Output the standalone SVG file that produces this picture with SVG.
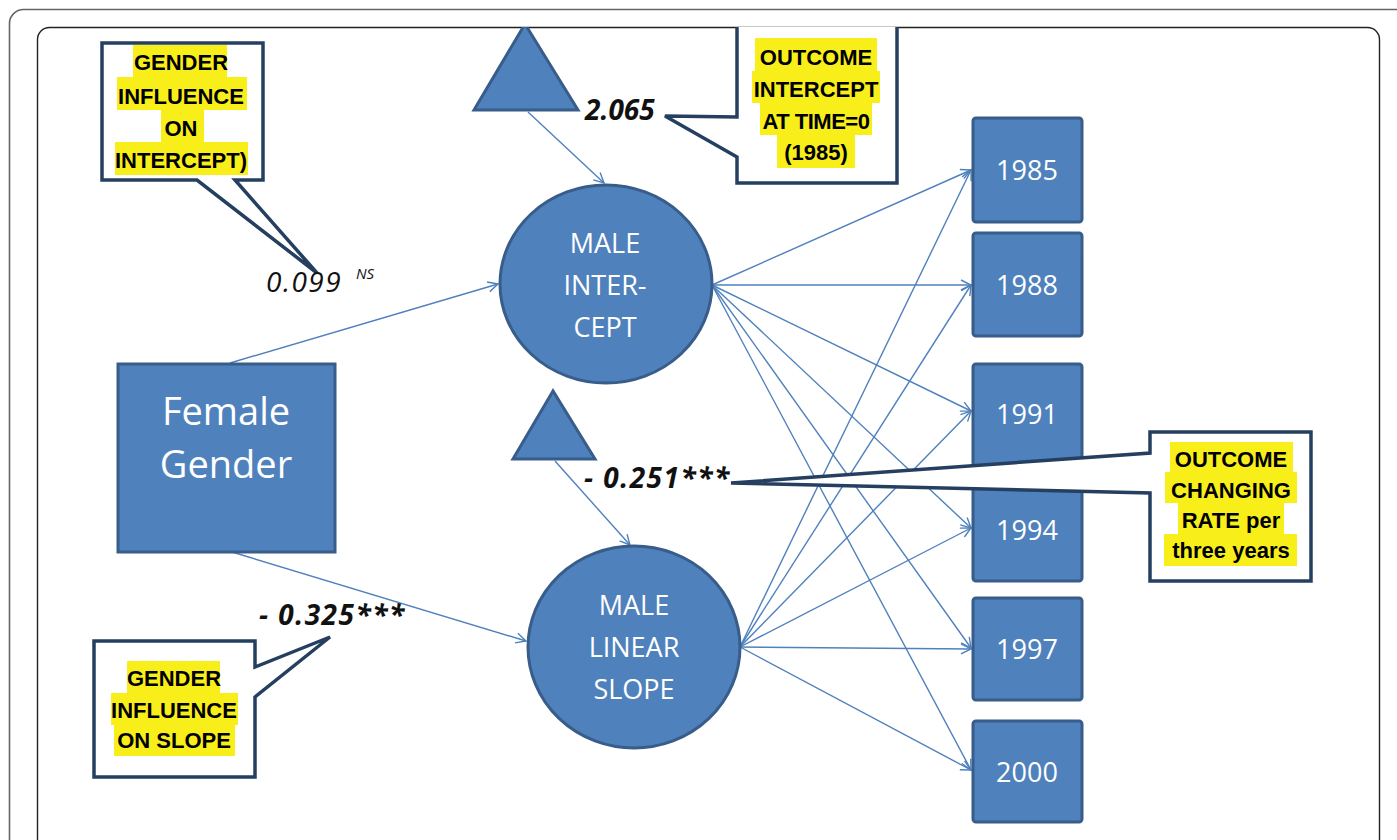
<svg xmlns="http://www.w3.org/2000/svg" width="1397" height="840" viewBox="0 0 1397 840">
<style>
.shape{fill:#4f81bd;stroke:#385d8a;stroke-width:3}
.conn{stroke:#4f81bd;stroke-width:1.4;fill:none}
.call{fill:#fff;stroke:#243f60;stroke-width:3.5;stroke-linejoin:miter}
.hl{fill:#f8ef1a}
.ct{font-family:"Liberation Sans",Arial,sans-serif;font-weight:bold;font-size:22px;fill:#000;text-anchor:middle}
.wt{font-family:"Open Sans","Liberation Sans",sans-serif;fill:#fff;text-anchor:middle}
.lab{font-family:"Open Sans","Liberation Sans",sans-serif;font-style:italic;fill:#111}
</style>
<defs>
<marker id="arr" markerUnits="userSpaceOnUse" markerWidth="14" markerHeight="14" refX="11" refY="6" orient="auto" viewBox="0 0 14 12">
<path d="M1,1 L11,6 L1,11" fill="none" stroke="#4f81bd" stroke-width="1.4"/>
</marker>
<clipPath id="frame"><rect x="37" y="27" width="1343" height="840" rx="12"/></clipPath>
</defs>
<rect width="1397" height="840" fill="#fff"/>
<rect x="9.5" y="9.5" width="1420" height="860" rx="14" fill="none" stroke="#666" stroke-width="1.6"/>
<rect x="37.5" y="27.5" width="1342" height="840" rx="12" fill="none" stroke="#222" stroke-width="1.4"/>
<g clip-path="url(#frame)">
<g id="connectors">
<line class="conn" x1="528" y1="112" x2="604" y2="183" marker-end="url(#arr)"/>
<line class="conn" x1="555" y1="461" x2="630" y2="545" marker-end="url(#arr)"/>
<line class="conn" x1="230" y1="363" x2="498" y2="284" marker-end="url(#arr)"/>
<line class="conn" x1="232" y1="552" x2="526" y2="641" marker-end="url(#arr)"/>
<line class="conn" x1="712" y1="285" x2="971" y2="170" marker-end="url(#arr)"/>
<line class="conn" x1="712" y1="285" x2="971" y2="285" marker-end="url(#arr)"/>
<line class="conn" x1="712" y1="285" x2="971" y2="411" marker-end="url(#arr)"/>
<line class="conn" x1="712" y1="285" x2="971" y2="528" marker-end="url(#arr)"/>
<line class="conn" x1="712" y1="285" x2="971" y2="648" marker-end="url(#arr)"/>
<line class="conn" x1="712" y1="285" x2="971" y2="770" marker-end="url(#arr)"/>
<line class="conn" x1="740" y1="647" x2="971" y2="170" marker-end="url(#arr)"/>
<line class="conn" x1="740" y1="647" x2="971" y2="285" marker-end="url(#arr)"/>
<line class="conn" x1="740" y1="647" x2="971" y2="411" marker-end="url(#arr)"/>
<line class="conn" x1="740" y1="647" x2="971" y2="528" marker-end="url(#arr)"/>
<line class="conn" x1="740" y1="647" x2="971" y2="649" marker-end="url(#arr)"/>
<line class="conn" x1="740" y1="647" x2="971" y2="770" marker-end="url(#arr)"/>
</g>
<g id="tri-intercept"><polygon class="shape" points="525,24 474,110 578,110"/></g>
<g id="tri-slope"><polygon class="shape" points="553,391 513,459 595,459"/></g>
<g id="female-gender">
<rect class="shape" x="118" y="364" width="217" height="188"/>
<text class="wt" x="226" y="425" font-size="38">Female</text>
<text class="wt" x="226" y="478" font-size="38">Gender</text>
</g>
<g id="male-intercept">
<ellipse class="shape" cx="606" cy="284" rx="106" ry="99"/>
<text class="wt" x="605" y="253" font-size="27">MALE</text>
<text class="wt" x="605" y="295" font-size="27">INTER-</text>
<text class="wt" x="605" y="337" font-size="27">CEPT</text>
</g>
<g id="male-slope">
<ellipse class="shape" cx="634" cy="647" rx="106" ry="101"/>
<text class="wt" x="634" y="615" font-size="27">MALE</text>
<text class="wt" x="634" y="657" font-size="27">LINEAR</text>
<text class="wt" x="634" y="699" font-size="27">SLOPE</text>
</g>
<g id="y1985"><rect class="shape" x="973" y="118" width="109" height="104" rx="3"/><text class="wt" x="1027" y="180" font-size="27">1985</text></g>
<g id="y1988"><rect class="shape" x="973" y="233" width="109" height="103" rx="3"/><text class="wt" x="1027" y="295" font-size="27">1988</text></g>
<g id="y1991"><rect class="shape" x="973" y="364" width="109" height="102" rx="3"/><text class="wt" x="1027" y="424" font-size="27">1991</text></g>
<g id="y1994"><rect class="shape" x="973" y="478" width="109" height="103" rx="3"/><text class="wt" x="1027" y="540" font-size="27">1994</text></g>
<g id="y1997"><rect class="shape" x="973" y="598" width="109" height="102" rx="3"/><text class="wt" x="1027" y="659" font-size="27">1997</text></g>
<g id="y2000"><rect class="shape" x="973" y="721" width="109" height="101" rx="3"/><text class="wt" x="1027" y="782" font-size="27">2000</text></g>
<g id="callout-gender-intercept">
<path class="call" d="M102,43 H263 V180 H235 L317,273 L197,180 H102 Z"/>
<rect class="hl" x="133" y="45" width="94" height="32"/>
<rect class="hl" x="117" y="77" width="130" height="33"/>
<rect class="hl" x="161" y="110" width="43" height="32"/>
<rect class="hl" x="115" y="142" width="133" height="33"/>
<text class="ct" x="181" y="70">GENDER</text>
<text class="ct" x="181" y="104">INFLUENCE</text>
<text class="ct" x="181" y="136">ON</text>
<text class="ct" x="181" y="168">INTERCEPT)</text>
</g>
<g id="callout-outcome-intercept">
<path class="call" d="M737,10 H897 V183 H737 V157 L665,116 L737,117 Z"/>
<rect class="hl" x="755" y="38" width="122" height="33"/>
<rect class="hl" x="752" y="71" width="128" height="32"/>
<rect class="hl" x="760" y="103" width="112" height="32"/>
<rect class="hl" x="777" y="135" width="78" height="33"/>
<text class="ct" x="816" y="65">OUTCOME</text>
<text class="ct" x="816" y="97">INTERCEPT</text>
<text class="ct" x="816" y="129" letter-spacing="-0.5">AT TIME=0</text>
<text class="ct" x="816" y="160">(1985)</text>
</g>
<g id="callout-outcome-rate">
<path class="call" d="M1150,432 H1311 V581 H1150 V493 L731,483 L1150,453 Z"/>
<rect class="hl" x="1170" y="442" width="123" height="30"/>
<rect class="hl" x="1165" y="472" width="132" height="31"/>
<rect class="hl" x="1178" y="503" width="106" height="31"/>
<rect class="hl" x="1164" y="534" width="133" height="32"/>
<text class="ct" x="1231" y="467">OUTCOME</text>
<text class="ct" x="1231" y="498">CHANGING</text>
<text class="ct" x="1231" y="528">RATE per</text>
<text class="ct" x="1231" y="558">three years</text>
</g>
<g id="callout-gender-slope">
<path class="call" d="M94,641 H255 V667 L330,637 L255,697 V777 H94 Z"/>
<rect class="hl" x="127" y="661" width="93" height="32"/>
<rect class="hl" x="111" y="693" width="127" height="32"/>
<rect class="hl" x="114" y="725" width="121" height="31"/>
<text class="ct" x="174" y="686">GENDER</text>
<text class="ct" x="174" y="718">INFLUENCE</text>
<text class="ct" x="174" y="748">ON SLOPE</text>
</g>
<g id="labels">
<text class="lab" x="266" y="292" font-size="28" letter-spacing="1.5">0.099</text>
<text class="lab" x="356" y="279" font-size="15">NS</text>
<text class="lab" x="585" y="120" font-size="28" font-weight="bold">2.065</text>
<text class="lab" x="584" y="488" font-size="28" font-weight="bold" letter-spacing="1.5">- 0.251***</text>
<text class="lab" x="259" y="625" font-size="28" font-weight="bold" letter-spacing="1.5">- 0.325***</text>
</g>
</g>
</svg>
